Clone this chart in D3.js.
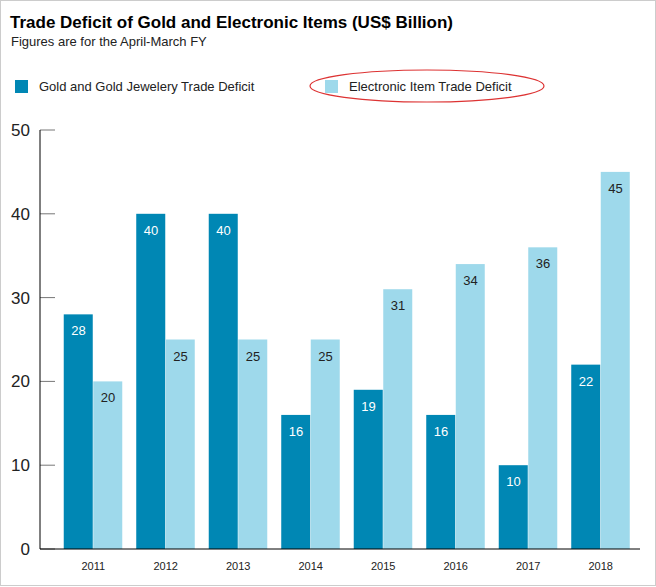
<!DOCTYPE html>
<html><head><meta charset="utf-8">
<script src="https://cdn.jsdelivr.net/npm/d3@7"></script>
<style>body{margin:0;background:#fff}svg{font-family:"Liberation Sans",Arial,sans-serif}</style>
</head><body>
<svg id="chart" width="656" height="587"></svg>
<script>
// data
var years = ["2011","2012","2013","2014","2015","2016","2017","2018"];
var gold = [28, 40, 40, 16, 19, 16, 10, 22];
var electronic = [20, 25, 25, 25, 31, 34, 36, 45];
var yTicks = [0, 10, 20, 30, 40, 50];
var seriesNames = ["Gold and Gold Jewelery Trade Deficit", "Electronic Item Trade Deficit"];
var colors = ["#0087b4", "#9ed9eb"];

var svg = d3.select("#chart");
svg.append("rect").attr("x", 0.5).attr("y", 0.5).attr("width", 655).attr("height", 585)
    .attr("fill", "#fff").attr("stroke", "#ccc");

svg.append("text").attr("x", 10).attr("y", 28).attr("font-size", 17).attr("font-weight", "bold")
    .text("Trade Deficit of Gold and Electronic Items (US$ Billion)");
svg.append("text").attr("x", 11).attr("y", 46).attr("font-size", 13).attr("fill", "#222")
    .text("Figures are for the April-March FY");

// legend
var legX = [15, 325];
seriesNames.forEach(function(n, i) {
    svg.append("rect").attr("x", legX[i]).attr("y", 80).attr("width", 13).attr("height", 13).attr("fill", colors[i]);
    svg.append("text").attr("x", legX[i] + 24).attr("y", 91).attr("font-size", 13).attr("fill", "#222").text(n);
});
svg.append("ellipse").attr("cx", 427).attr("cy", 86).attr("rx", 117).attr("ry", 16)
    .attr("fill", "none").attr("stroke", "#d33").attr("stroke-width", 1.2);

var y = d3.scaleLinear().domain([0, 50]).range([549, 130]);
var x = d3.scaleBand().domain(years).range([57, 637]).paddingInner(0.186).paddingOuter(0.093);
var xs = d3.scaleBand().domain([0, 1]).range([0, x.bandwidth()]);

// y ticks
var yAxis = svg.append("g");
yAxis.selectAll("line.t").data(yTicks).enter().append("line")
    .attr("x1", 40).attr("x2", 55).attr("y1", d => y(d)).attr("y2", d => y(d)).attr("stroke", "#777");
yAxis.selectAll("text").data(yTicks).enter().append("text")
    .attr("x", 30).attr("y", d => y(d) + 6).attr("text-anchor", "end").attr("font-size", 17).attr("fill", "#222")
    .text(d => d);

// bars
var groups = svg.selectAll("g.yr").data(years).enter().append("g")
    .attr("transform", d => "translate(" + x(d) + ",0)");
groups.each(function(yr, i) {
    var g = d3.select(this);
    [gold[i], electronic[i]].forEach(function(v, s) {
        g.append("rect").attr("x", xs(s)).attr("y", y(v)).attr("width", xs.bandwidth() - 0.5)
            .attr("height", y(0) - y(v)).attr("fill", colors[s]);
        g.append("text").attr("x", xs(s) + xs.bandwidth() / 2).attr("y", y(v) + 21)
            .attr("text-anchor", "middle").attr("font-size", 13)
            .attr("fill", s === 0 ? "#fff" : "#222").text(v);
    });
    g.append("text").attr("x", x.bandwidth() / 2).attr("y", 570).attr("text-anchor", "middle")
        .attr("font-size", 11).attr("fill", "#222").text(yr);
});

svg.append("line").attr("x1", 40).attr("x2", 40).attr("y1", 130).attr("y2", 549).attr("stroke", "#000");
svg.append("line").attr("x1", 40).attr("x2", 640).attr("y1", 549).attr("y2", 549).attr("stroke", "#000");
</script>
</body></html>
